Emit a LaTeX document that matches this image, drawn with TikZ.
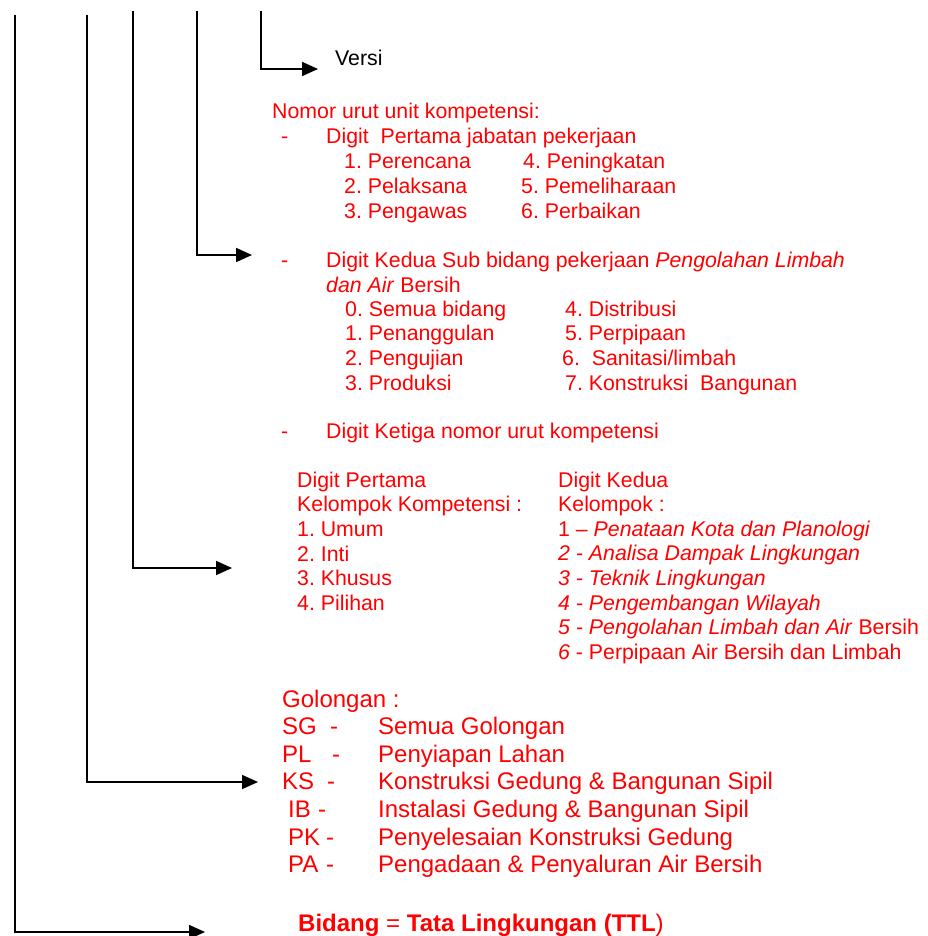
\documentclass[tikz,border=0pt]{standalone}
\usepackage{fontspec}
\setmainfont{Liberation Sans}
\usetikzlibrary{arrows.meta,positioning}
\definecolor{cRed}{HTML}{FF0000}
\frenchspacing
\tikzset{
  txt-black/.style={anchor=base west,inner sep=0pt,font=\fontsize{21.3}{24.7}\selectfont},
  txt-red/.style={txt-black,text=cRed},
  txt-big/.style={txt-red,font=\fontsize{24}{27.6}\selectfont},
  tree-line/.style={line width=1.7pt,draw=black},
  tree-arrow/.style={tree-line,-{Triangle[length=16pt,width=14pt]}},
}

\begin{document}
\begin{tikzpicture}[x=1pt,y=-1pt]
  \useasboundingbox (0,0) rectangle (927,936);
  % code tree: one trunk per part of the code
  \foreach \name/\x/\top/\y/\tip in {bid/15/15/932/205, gol/87/15/782/258,
      klp/133/11/568/232, urut/197/11/255/252, ver/261/11/69/318} {
    \coordinate (\name-top) at (\x,\top);
    \coordinate (\name-tip) at (\tip,\y);
    \draw[tree-arrow] (\name-top) |- (\name-tip);
  }

  % versi
  \node[txt-black] (versi) at (335,66) {Versi};

  % nomor urut - digit pertama
  \node[txt-red] (nomor) at (272,119) {Nomor urut unit kompetensi:};
  \node[txt-red] (dash1) at (281,144) {-};
  \node[txt-red] (digit1) at (326,144) {Digit\ \ Pertama jabatan pekerjaan};
  \foreach \i/\a/\b/\xb in {1/1. Perencana/4. Peningkatan/523,
      2/2. Pelaksana/5. Pemeliharaan/521, 3/3. Pengawas/6. Perbaikan/521} {
    \node[txt-red] (jab\i a) at (344,{144+24.7*\i}) {\a};
    \node[txt-red] (jab\i b) at (\xb,{144+24.7*\i}) {\b};
  }

  % digit kedua
  \node[txt-red] (dash2) at (281,267) {-};
  \node[txt-red] (digit2) at (326,267) {Digit Kedua Sub bidang pekerjaan \textit{Pengolahan Limbah}};
  \node[txt-red] (digit2b) at (326,292) {\textit{dan Air} Bersih};
  \foreach \i/\a/\b/\xb in {0/0. Semua bidang/4. Distribusi/565,
      1/1. Penanggulan/5. Perpipaan/565, 2/2. Pengujian/{6.\ \ Sanitasi/limbah}/562,
      3/3. Produksi/7. Konstruksi\ \ Bangunan/565} {
    \node[txt-red] (sub\i a) at (345,{316+24.7*\i}) {\a};
    \node[txt-red] (sub\i b) at (\xb,{316+24.7*\i}) {\b};
  }

  % digit ketiga
  \node[txt-red] (dash3) at (281,438) {-};
  \node[txt-red] (digit3) at (326,438) {Digit Ketiga nomor urut kompetensi};
  \foreach \i/\t in {0/Digit Pertama, 1/Kelompok Kompetensi :, 2/1. Umum,
      3/2. Inti, 4/3. Khusus, 5/4. Pilihan} {
    \node[txt-red] (klpA\i) at (297,{487+24.7*\i}) {\t};
  }
  \foreach \i/\t in {0/Digit Kedua, 1/Kelompok :, 2/1 – \textit{Penataan Kota dan Planologi},
      3/\textit{2 - Analisa Dampak Lingkungan}, 4/\textit{3 - Teknik Lingkungan},
      5/\textit{4 - Pengembangan Wilayah}, 6/\textit{5 - Pengolahan Limbah dan Air} Bersih,
      7/\textit{6} - Perpipaan Air Bersih dan Limbah} {
    \node[txt-red] (klpB\i) at (558,{487+24.65*\i}) {\t};
  }

  % golongan
  \node[txt-big] (golongan) at (282,707) {Golongan :};
  \foreach \i/\ab/\ax/\dx/\desc in {1/SG/282/330/Semua Golongan,
      2/PL/282/332/Penyiapan Lahan, 3/KS/282/327/Konstruksi Gedung \& Bangunan Sipil,
      4/IB/288/318/Instalasi Gedung \& Bangunan Sipil,
      5/PK/288/326/Penyelesaian Konstruksi Gedung,
      6/PA/288/326/Pengadaan \& Penyaluran Air Bersih} {
    \node[txt-big] (gol\i ab) at (\ax,{707+27.65*\i}) {\ab};
    \node[txt-big] (gol\i dash) at (\dx,{707+27.65*\i}) {-};
    \node[txt-big] (gol\i desc) at (378,{707+27.65*\i}) {\desc};
  }

  % bidang
  \node[txt-big] (bidang) at (298,931) {\textbf{Bidang} = \textbf{Tata Lingkungan (TTL})};
\end{tikzpicture}
\end{document}
